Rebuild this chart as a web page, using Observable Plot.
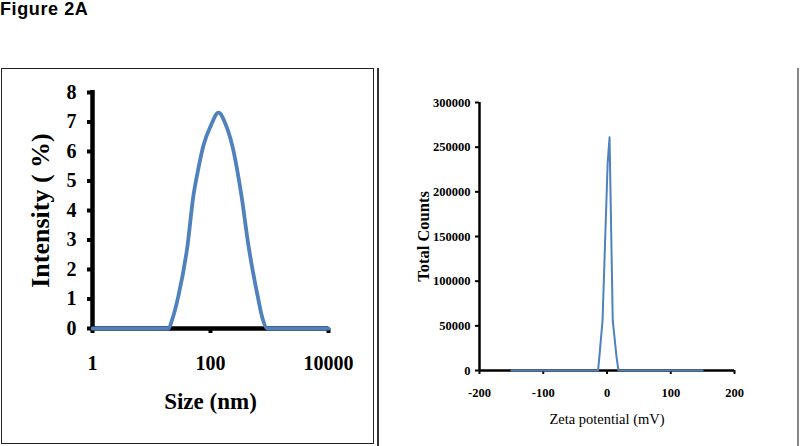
<!DOCTYPE html>
<html>
<head>
<meta charset="utf-8">
<script src="https://cdn.jsdelivr.net/npm/d3@7"></script>
<script src="https://cdn.jsdelivr.net/npm/@observablehq/plot@0.6"></script>
<style>
  body { margin: 0; background: #fff; }
  #wrap { position: relative; width: 800px; height: 446px; overflow: hidden; background: #fff; }
  #title { position: absolute; left: 0; top: 0; line-height: 18px; font: bold 18px/18px "Liberation Sans", Arial, sans-serif; letter-spacing: 0.6px; color: #000; }
  #boxL { position: absolute; left: 1px; top: 68px; width: 373px; height: 376px; box-sizing: border-box; border: 1.5px solid #222; }
  #sep { position: absolute; left: 377px; top: 68px; width: 1.5px; height: 380px; background: #333; }
  #edgeR { position: absolute; left: 797px; top: 68px; width: 1.5px; height: 380px; background: #888; }
  #chartL { position: absolute; left: 0; top: 68px; }
  #chartR { position: absolute; left: 378px; top: 68px; }
</style>
</head>
<body>
<div id="wrap">
  <div id="title">Figure 2A</div>
  <div id="boxL"></div>
  <div id="sep"></div>
  <div id="edgeR"></div>
  <div id="chartL"></div>
  <div id="chartR"></div>
</div>
<script>
// ---- Panel 1: size distribution (DLS) ----
const sizeNm       = [1, 19.4, 22.4, 28.7, 40.7, 51.3, 62, 75.9, 100, 137, 178, 234, 335, 441, 627, 759, 925, 10000];
const intensityPct = [0, 0,    0.3,  1.12, 2.8,  4.5,  5.4, 6.2, 6.85, 7.32, 6.95, 6.2, 4.5, 2.8, 1.12, 0.35, 0, 0];
const sizeTicks = [1, 100, 10000];
const intensityTicks = [0, 1, 2, 3, 4, 5, 6, 7, 8];
const sizeLabel = "Size (nm)";
const intensityLabel = "Intensity ( %)";

// ---- Panel 2: zeta potential ----
const zetaMv      = [-150, -14, -12, -7, 1, 4, 9, 15, 18, 150];
const totalCounts = [0, 0, 15000, 56000, 232000, 261000, 56000, 15000, 0, 0];
const zetaTicks = [-200, -100, 0, 100, 200];
const countTicks = [0, 50000, 100000, 150000, 200000, 250000, 300000];
const zetaLabel = "Zeta potential (mV)";
const countLabel = "Total Counts";

const blue = "#4F81BD";
const serif = "'Liberation Serif', 'Times New Roman', serif";

const dls = sizeNm.map((s, i) => ({size: s, intensity: intensityPct[i]}));
const zeta = zetaMv.map((z, i) => ({mv: z, counts: totalCounts[i]}));

const left = Plot.plot({
  width: 373, height: 378,
  marginLeft: 92, marginRight: 45, marginTop: 24, marginBottom: 118,
  style: {fontFamily: serif, fontWeight: "bold", background: "transparent", color: "#000", overflow: "visible"},
  x: {type: "log", domain: [1, 10000]},
  y: {domain: [0, 8]},
  marks: [
    Plot.ruleX([1], {y1: 0, y2: 8.07, stroke: "#000", strokeWidth: 4.5}),
    Plot.ruleY([0], {x1: 1, x2: 10000, stroke: "#000", strokeWidth: 4.5}),
    Plot.axisY({ticks: intensityTicks, tickSize: 5, strokeWidth: 4, tickPadding: 11, fontSize: 20, label: null, tickFormat: d => String(d)}),
    Plot.axisX({ticks: sizeTicks, tickSize: 5, strokeWidth: 4, tickPadding: 22, fontSize: 20, label: null, tickFormat: d => String(d)}),
    Plot.line(dls, {x: "size", y: "intensity", stroke: blue, strokeWidth: 3.8, curve: "monotone-x"}),
    Plot.text([intensityLabel], {text: d => d, frameAnchor: "left", textAnchor: "middle", rotate: -90, dx: -52, fontSize: 26, fontWeight: "bold"}),
    Plot.text([sizeLabel], {text: d => d, frameAnchor: "bottom", dy: 80, fontSize: 23, fontWeight: "bold"})
  ]
});
document.getElementById("chartL").appendChild(left);

const right = Plot.plot({
  width: 420, height: 378,
  marginLeft: 101, marginRight: 64, marginTop: 34, marginBottom: 76,
  style: {fontFamily: serif, fontWeight: "bold", background: "transparent", color: "#000", overflow: "visible"},
  x: {domain: [-200, 200]},
  y: {domain: [0, 300000]},
  marks: [
    Plot.ruleX([-200], {y1: 0, y2: 300000, stroke: "#000", strokeWidth: 2.5}),
    Plot.ruleY([0], {x1: -200, x2: 200, stroke: "#000", strokeWidth: 2.5}),
    Plot.axisY({ticks: countTicks, tickSize: 4, strokeWidth: 2, tickPadding: 5, fontSize: 12.5, label: null, tickFormat: d => String(d)}),
    Plot.axisX({ticks: zetaTicks, tickSize: 4, strokeWidth: 2, tickPadding: 14, fontSize: 12.5, label: null, tickFormat: d => String(d)}),
    Plot.line(zeta, {x: "mv", y: "counts", stroke: blue, strokeWidth: 2}),
    Plot.text([countLabel], {text: d => d, frameAnchor: "left", textAnchor: "middle", rotate: -90, dx: -55.5, fontSize: 16.5, fontWeight: "bold"}),
    Plot.text([zetaLabel], {text: d => d, frameAnchor: "bottom", dy: 53, fontSize: 14.5, fontWeight: "normal"})
  ]
});
document.getElementById("chartR").appendChild(right);
</script>
</body>
</html>
